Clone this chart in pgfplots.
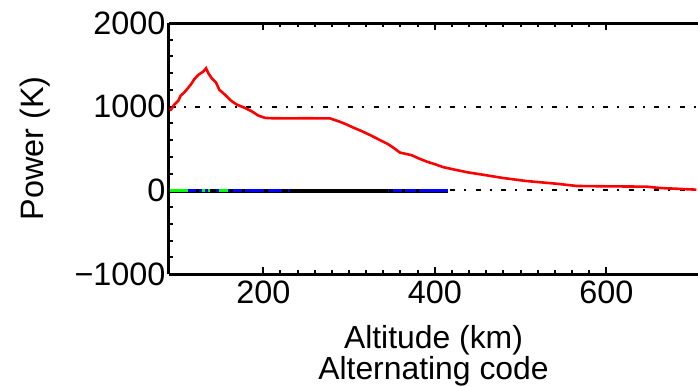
\documentclass[border=0pt]{standalone}
\usepackage{fontspec}
\setmainfont{Liberation Sans}
\usepackage{pgfplots}
\pgfplotsset{compat=1.18}
\definecolor{pred}{RGB}{255,0,0}
\definecolor{pgreen}{RGB}{0,255,0}
\definecolor{pblue}{RGB}{0,0,255}
\begin{document}
\begin{tikzpicture}
\begin{axis}[
  scale only axis,
  width=529bp, height=251bp,
  xmin=90, xmax=707, ymin=-1000, ymax=2000,
  axis x line*=box, axis y line*=left,
  axis line style={line width=3bp, black},
  tick align=inside,
  xtick={200,400,600}, xticklabels={200,400,600},
  ytick={-1000,0,1000,2000}, yticklabels={−1000,0,1000,2000},
  minor x tick num=9, minor y tick num=4,
  major tick length=7bp, minor tick length=4bp,
  every tick/.style={line width=2bp, black},
  tick label style={font=\fontsize{32.5}{34}\selectfont},
  xticklabel style={yshift=-3bp},
  xlabel={Altitude (km)\\Alternating code},
  xlabel style={at={(axis description cs:0.5,0)}, anchor=north, yshift=-51bp, inner sep=0pt, align=center, font=\fontsize{32}{26}\selectfont},
  ylabel={Power (K)},
  ylabel style={at={(axis description cs:-0.2363,0.5)}, anchor=base, font=\fontsize{32.5}{34}\selectfont},
  clip=false,
]
% dash-dot reference lines
\addplot[black, line width=2.3bp, dash pattern=on 5bp off 9bp on 2bp off 9.5bp] coordinates {(91,1000) (705,1000)};
\addplot[black, line width=2.3bp, dash pattern=on 5bp off 9bp on 2bp off 9.5bp] coordinates {(91,0) (705,0)};
% zero-level series
\addplot[black, line width=4.5bp] coordinates {(91,-8) (415,-8)};
\addplot[pgreen, line width=3bp, unbounded coords=jump] coordinates {
 (91.2,3) (111.8,3) (112,nan)
 (128.8,3) (132,3) (133,nan)
 (135.1,3) (137.8,3) (138,nan)
 (148.3,3) (159.2,3)};
\addplot[pblue, line width=3bp, unbounded coords=jump] coordinates {
 (111.8,3) (121.5,3) (122,nan)
 (125,3) (128.8,3) (129,nan)
 (132,3) (135.1,3) (136,nan)
 (144.8,3) (148.3,3) (149,nan)
 (159.2,3) (161.5,3) (162,nan)
 (165,3) (175.5,3) (176,nan)
 (178.6,3) (201.1,3) (202,nan)
 (205.8,3) (222.1,3) (223,nan)
 (228.4,3) (230.8,3) (231,nan)
 (345.4,3) (346.9,3) (347,nan)
 (351.6,3) (361.4,3) (362,nan)
 (365.2,3) (378,3) (379,nan)
 (381.9,3) (415,3)};
% power profile
\addplot[pred, line width=2.6bp] coordinates {
 (91,955) (92.3,965) (96.2,1025) (100.9,1072) (103.6,1131) (107.9,1171) (110.6,1203)
 (115.3,1262) (119.5,1328) (124.2,1380) (130,1420) (133.2,1459) (135.9,1400)
 (139.8,1340) (144.8,1289) (148.7,1202) (155.3,1143) (162.3,1072) (169,1025)
 (178.6,985) (186.4,945) (194.1,894) (202,866) (209.8,862) (230,860) (250,862)
 (265,860) (277.8,860) (287.4,827) (297.2,787) (304.9,750) (314.7,708)
 (324.4,661) (332.2,621) (338,590) (345.8,550) (351.6,510) (359.4,451)
 (373,420) (380.7,384) (390.5,344) (402.2,305) (409.9,277) (425.5,242)
 (439,214) (456.5,186) (479.9,147) (507.1,111) (542.1,79) (565.4,52)
 (600,48) (647,44) (662.6,28) (705,8)};
\coordinate (A) at (rel axis cs:0,0);
\coordinate (B) at (rel axis cs:1,1);
\end{axis}
\pgfresetboundingbox
\path[use as bounding box] ([xshift=-169bp,yshift=-113bp]A) rectangle ([yshift=23bp]B);
\end{tikzpicture}
\end{document}
